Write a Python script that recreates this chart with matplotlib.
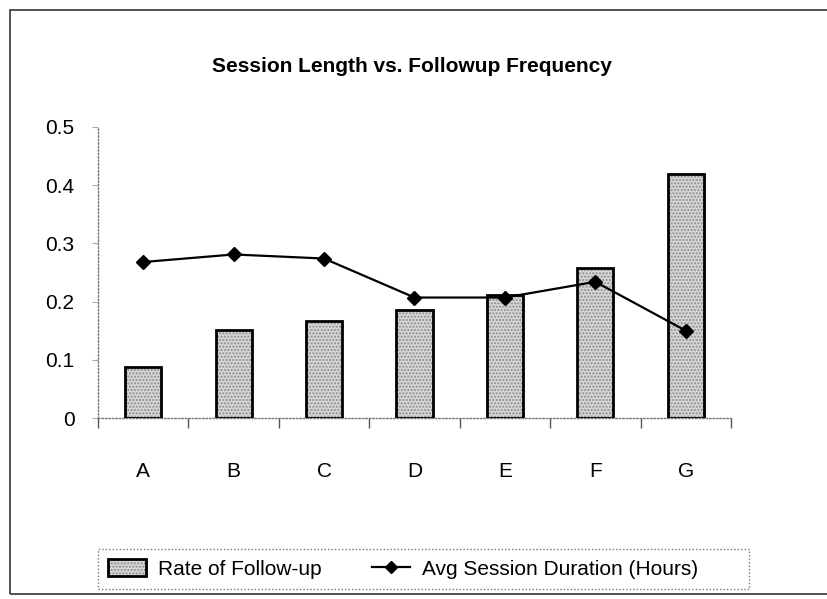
import matplotlib
matplotlib.use('Agg')
from matplotlib import pyplot as plt
from matplotlib.patches import Patch, Rectangle
from matplotlib.lines import Line2D

plt.rcParams['font.family'] = ['Liberation Sans', 'DejaVu Sans']

categories = ['A', 'B', 'C', 'D', 'E', 'F', 'G']
follow_up_rate = [0.088, 0.152, 0.166, 0.185, 0.212, 0.258, 0.42]
session_hours = [0.268, 0.281, 0.274, 0.207, 0.207, 0.234, 0.150]
y_ticks = [0, 0.1, 0.2, 0.3, 0.4, 0.5]

fig = plt.figure(figsize=(8.28, 5.99), dpi=100)
ax = fig.add_axes([98 / 828, 1 - 418 / 599, (731 - 98) / 828, (418 - 127) / 599])

x = list(range(len(categories)))

# stippled fill, then a black outline on top
ax.bar(x, follow_up_rate, width=0.4, color='#d6d6d6', hatch='.....',
       edgecolor='#8c8c8c', linewidth=0, zorder=2)
ax.bar(x, follow_up_rate, width=0.4, facecolor='none', edgecolor='black',
       linewidth=2, zorder=3)
ax.plot(x, session_hours, color='black', linewidth=1.6, marker='D',
        markersize=7, zorder=4)

ax.set_xlim(-0.5, len(categories) - 0.5)
ax.set_ylim(0, 0.5)
ax.set_yticks(y_ticks)
ax.set_yticklabels(['0', '0.1', '0.2', '0.3', '0.4', '0.5'], fontsize=15)
ax.set_xticks([i - 0.5 for i in range(len(categories) + 1)])
ax.set_xticklabels([])
ax.set_xticks(x, minor=True)
ax.set_xticklabels(categories, minor=True, fontsize=15)
ax.tick_params(axis='x', which='major', direction='out', length=7, width=1, color='#555555')
ax.tick_params(axis='x', which='minor', length=0, pad=32)
ax.tick_params(axis='y', direction='out', length=4, width=0.8, color='#aaaaaa', pad=13)

for side in ['top', 'right']:
    ax.spines[side].set_visible(False)
for side in ['left', 'bottom']:
    ax.spines[side].set_linestyle((0, (1, 1.5)))
    ax.spines[side].set_color('#777777')
    ax.spines[side].set_linewidth(1)

fig.text(412 / 828, 1 - 67 / 599, 'Session Length vs. Followup Frequency',
         ha='center', va='center', fontsize=15, fontweight='bold')

# legend
bar_handle = (Patch(facecolor='#d6d6d6', hatch='.....', edgecolor='#8c8c8c', linewidth=0),
              Patch(facecolor='none', edgecolor='black', linewidth=2))
line_handle = Line2D([], [], color='black', linewidth=1.6, marker='D', markersize=6)
leg = fig.legend([bar_handle, line_handle],
                 ['Rate of Follow-up', 'Avg Session Duration (Hours)       '],
                 loc='center left', bbox_to_anchor=(98 / 828, 1 - 569 / 599),
                 borderaxespad=0,
                 ncol=2, fontsize=15, frameon=True, fancybox=False,
                 handlelength=1.8, handleheight=0.9, columnspacing=2.4,
                 borderpad=0.5, handletextpad=0.6)
leg.get_frame().set_edgecolor('#555555')
leg.get_frame().set_linestyle((0, (1, 1.5)))
leg.get_frame().set_linewidth(1)

# outer chart border
fig.patches.append(Rectangle((10 / 828, 1 - 594 / 599), 1.0, (594 - 10) / 599,
                             transform=fig.transFigure, fill=False,
                             edgecolor='#333333', linewidth=1.2))

fig.savefig('out.png', dpi=100)
